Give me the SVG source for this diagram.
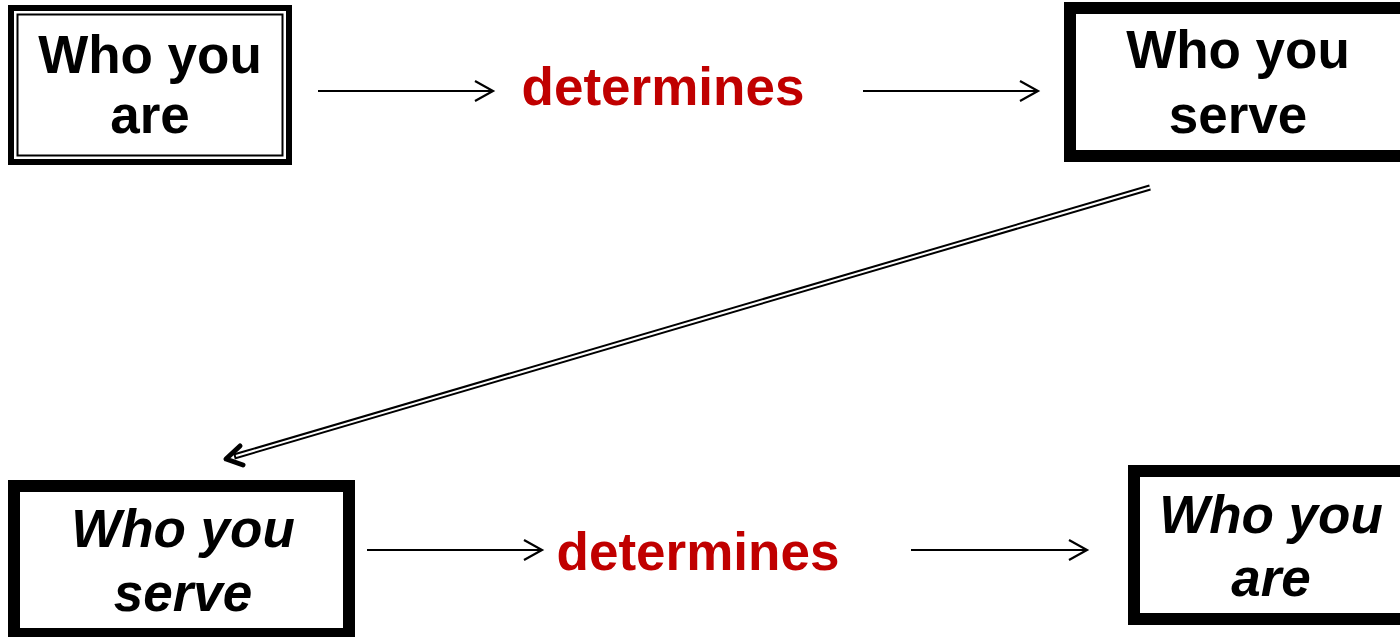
<svg xmlns="http://www.w3.org/2000/svg" width="1400" height="637" viewBox="0 0 1400 637">
<defs>
<style>
.box{fill:#fff;stroke:#000}
.t{font-family:"Liberation Sans",Arial,sans-serif;font-weight:bold;font-size:53px;fill:#000;text-anchor:middle}
.it{font-style:italic}
.red{fill:#C00000}
.conn{stroke:#000;stroke-width:2;fill:none}
</style>
<marker id="open" markerWidth="24" markerHeight="24" viewBox="0 0 24 24" refX="20" refY="12" orient="auto" markerUnits="userSpaceOnUse">
<path d="M2,2 L20,12 L2,22" fill="none" stroke="#000" stroke-width="2.2"/>
</marker>
</defs>
<rect width="1400" height="637" fill="#fff"/>
<g id="node-who-you-are-1">
<rect class="box" x="11" y="8" width="278" height="154" stroke-width="6"/>
<rect x="17.5" y="14.5" width="265" height="141" fill="none" stroke="#000" stroke-width="2"/>
<text class="t" x="150" y="73">Who you</text>
<text class="t" x="150" y="133">are</text>
</g>
<g id="label-determines-1">
<text class="t red" x="663" y="105">determines</text>
</g>
<g id="node-who-you-serve-1">
<rect class="box" x="1070" y="8" width="360" height="148" stroke-width="12"/>
<text class="t" x="1238" y="68">Who you</text>
<text class="t" x="1238" y="133">serve</text>
</g>
<g id="node-who-you-serve-2">
<rect class="box" x="14" y="486" width="335" height="148" stroke-width="12"/>
<text class="t it" x="183" y="547">Who you</text>
<text class="t it" x="183" y="611">serve</text>
</g>
<g id="label-determines-2">
<text class="t red" x="698" y="570">determines</text>
</g>
<g id="node-who-you-are-2">
<rect class="box" x="1134" y="471" width="300" height="148" stroke-width="12"/>
<text class="t it" x="1271" y="533">Who you</text>
<text class="t it" x="1271" y="596">are</text>
</g>
<g id="connectors">
<line class="conn" x1="318" y1="91" x2="493" y2="91" marker-end="url(#open)"/>
<line class="conn" x1="863" y1="91" x2="1038" y2="91" marker-end="url(#open)"/>
<line class="conn" x1="367" y1="550" x2="542" y2="550" marker-end="url(#open)"/>
<line class="conn" x1="911" y1="550" x2="1087" y2="550" marker-end="url(#open)"/>
<line x1="1150" y1="187.5" x2="234" y2="456.5" stroke="#000" stroke-width="6"/>
<line x1="1150" y1="187.5" x2="236" y2="456" stroke="#fff" stroke-width="2"/>
<path d="M240,446 L226,459 L243,465" fill="none" stroke="#000" stroke-width="5" stroke-linecap="round" stroke-linejoin="round"/>
</g>
</svg>
